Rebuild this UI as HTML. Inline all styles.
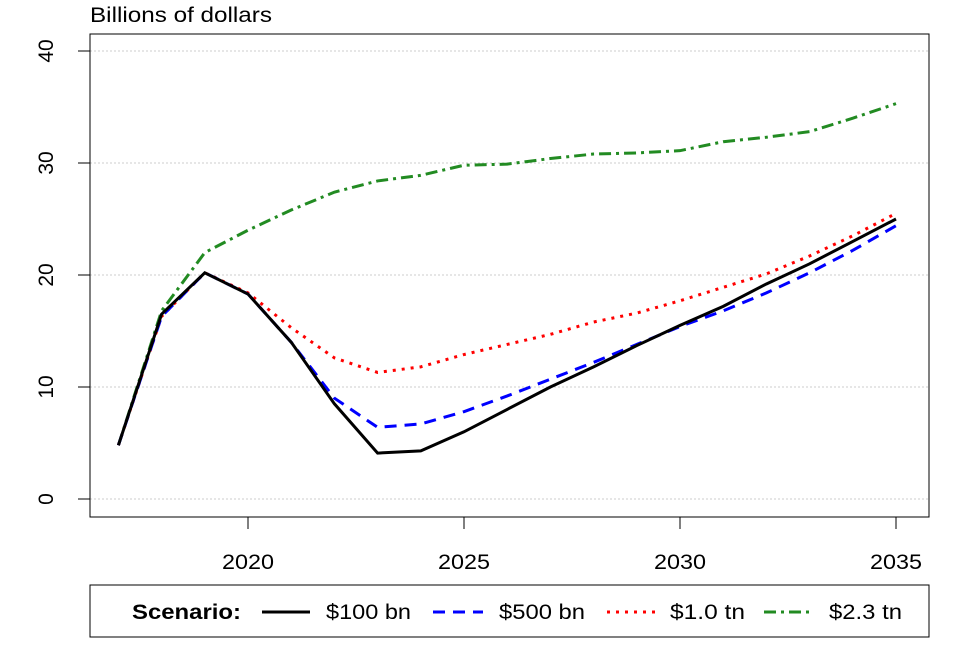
<!DOCTYPE html>
<html><head><meta charset="utf-8"><style>
body{margin:0;background:#fff;}
svg text{font-family:"Liberation Sans",Arial,sans-serif;}
</style></head><body>
<svg id="chart" width="960" height="649" xmlns="http://www.w3.org/2000/svg">
<rect width="960" height="649" fill="#fff"/>
<text x="90" y="22" font-size="21" textLength="182" lengthAdjust="spacingAndGlyphs">Billions of dollars</text>
<g id="grid"></g>
<g id="yticks"></g>
<g id="xticks"></g>
<g id="series"></g>
<rect x="90" y="34" width="839" height="483" fill="none" stroke="#000" stroke-width="1"/>
<g>
<rect x="90" y="585" width="839" height="52" fill="none" stroke="#000"/>
<text x="132" y="619" font-size="21" font-weight="bold" textLength="109" lengthAdjust="spacingAndGlyphs">Scenario:</text>
<g><line x1="262" y1="612" x2="310" y2="612" stroke="#000" stroke-width="3"/><text x="326" y="619" font-size="21" textLength="85" lengthAdjust="spacingAndGlyphs">$100 bn</text></g>
<g><line x1="433" y1="612" x2="483" y2="612" stroke="#0000ff" stroke-width="3" stroke-dasharray="12,8"/><text x="499" y="619" font-size="21" textLength="86" lengthAdjust="spacingAndGlyphs">$500 bn</text></g>
<g><line x1="607" y1="612" x2="655" y2="612" stroke="#ff0000" stroke-width="3" stroke-dasharray="3,6"/><text x="670" y="619" font-size="21" textLength="75" lengthAdjust="spacingAndGlyphs">$1.0 tn</text></g>
<g><line x1="764" y1="612" x2="812" y2="612" stroke="#228b22" stroke-width="3" stroke-dasharray="12,5,3,5"/><text x="829" y="619" font-size="21" textLength="73" lengthAdjust="spacingAndGlyphs">$2.3 tn</text></g>
</g>
</svg>
<script>
const years=[2017,2018,2019,2020,2021,2022,2023,2024,2025,2026,2027,2028,2029,2030,2031,2032,2033,2034,2035];
const s100=[4.8,16.5,20.2,18.3,14,8.5,4.1,4.3,6,8,10,11.8,13.7,15.5,17.2,19.2,21,23,25];
const s500=[4.8,16.3,20.2,18.3,14,9,6.4,6.7,7.8,9.2,10.7,12.2,13.8,15.4,16.8,18.4,20.2,22.2,24.4];
const s1tn=[4.8,16.3,20.2,18.4,15.3,12.6,11.3,11.8,12.9,13.8,14.7,15.8,16.6,17.7,18.9,20.1,21.7,23.5,25.5];
const s23tn=[4.8,16.8,22,24,25.8,27.4,28.4,28.9,29.8,29.9,30.4,30.8,30.9,31.1,31.9,32.3,32.8,34,35.3];
const yTicks=[0,10,20,30,40];
const xTicks=[2020,2025,2030,2035];
const NS="http://www.w3.org/2000/svg";
const x=v=>248+(v-2020)*43.2;
const y=v=>499-v*11.2;
function mk(t,a,p){const e=document.createElementNS(NS,t);for(const k in a)e.setAttribute(k,a[k]);p.appendChild(e);return e;}
const g=document.getElementById('grid'),yt=document.getElementById('yticks'),xt=document.getElementById('xticks'),se=document.getElementById('series');
yTicks.forEach(v=>{
 const l=mk('line',{x1:90,x2:929,y1:y(v),y2:y(v),stroke:'#ccc','stroke-dasharray':'2,2'},g);
 
 
 const t=mk('line',{x1:78,x2:90,y1:y(v),y2:y(v),stroke:'#000'},yt);
 
 
 const tx=mk('text',{x:0,y:0,'font-size':21,'text-anchor':'middle',transform:`translate(53,${y(v)}) rotate(-90)`},yt);
 tx.textContent=v;
 
 
});
xTicks.forEach(v=>{
 const t=mk('line',{x1:x(v),x2:x(v),y1:517,y2:529,stroke:'#000'},xt);
 
 
 const tx=mk('text',{x:x(v),y:569,'font-size':21,'text-anchor':'middle',textLength:52,lengthAdjust:'spacingAndGlyphs'},xt);
 tx.textContent=v;
 
 
});
function line(d,c,dash,name){
 const p=mk('polyline',{points:d.map((v,i)=>x(years[i])+','+y(v)).join(' '),fill:'none',stroke:c,'stroke-width':3,'stroke-dasharray':dash},se);
 
 
}
line(s23tn,'#228b22','12,5,3,5','series-2-3tn');
line(s1tn,'#ff0000','3,6','series-1-0tn');
line(s500,'#0000ff','12,8','series-500bn');
line(s100,'#000','none','series-100bn');
</script>
</body></html>
